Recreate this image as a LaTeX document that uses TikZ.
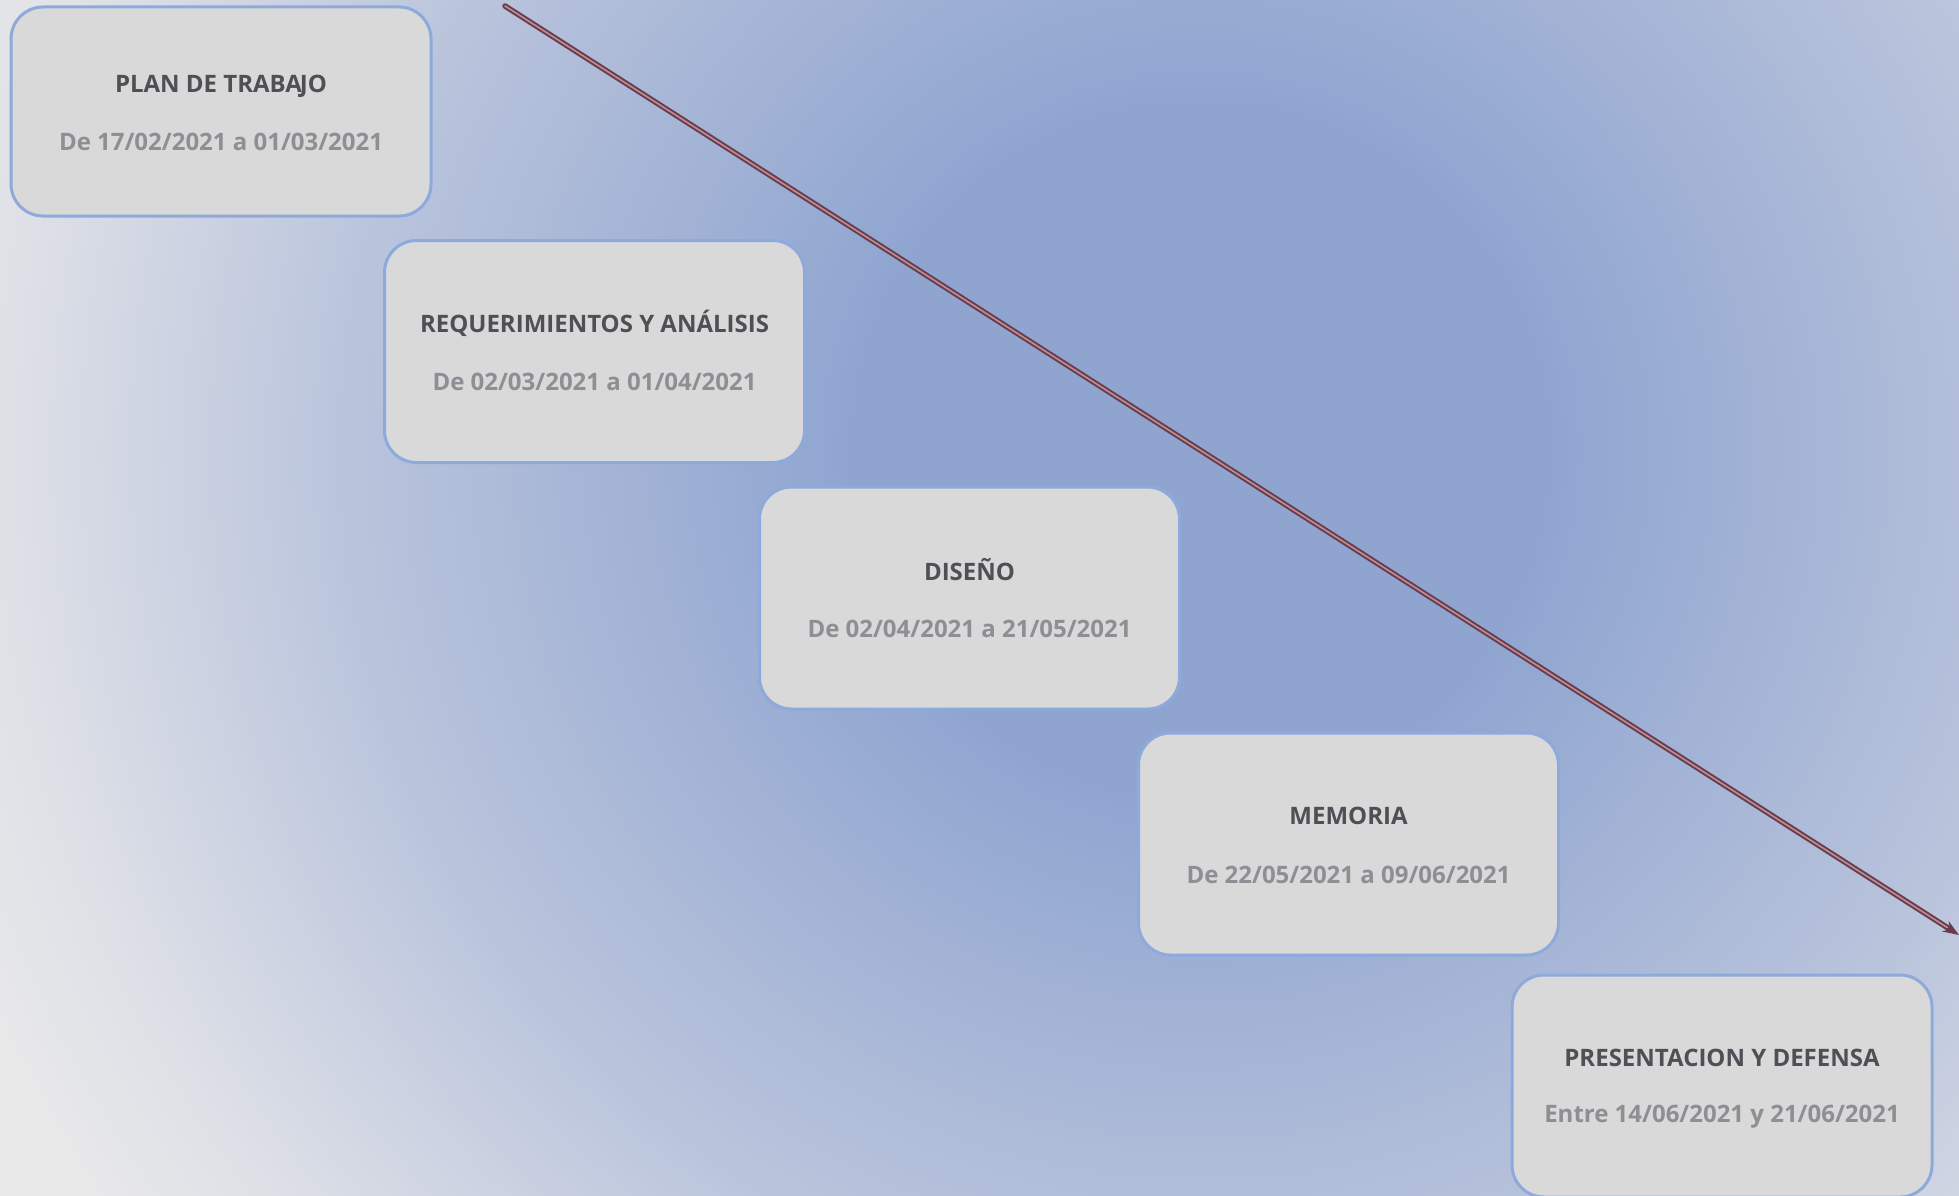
\documentclass[tikz,border=0pt]{standalone}
\usepackage{fontspec}
\setmainfont{Open Sans}
\usetikzlibrary{arrows.meta}
\definecolor{bgA}{HTML}{8FA5D0}
\definecolor{bgB}{HTML}{AFBCD9}
\definecolor{bgC}{HTML}{B9C4DC}
\definecolor{bgD}{HTML}{DFE1E7}
\definecolor{bgE}{HTML}{E9E9E9}
\definecolor{boxfill}{HTML}{D9D9D9}
\definecolor{boxline}{HTML}{8EA9DB}
\definecolor{titlecol}{HTML}{4F4F55}
\definecolor{datecol}{HTML}{8E8E94}
\definecolor{arrowout}{HTML}{6B3B4B}
\definecolor{arrowin}{HTML}{B89098}
\pgfdeclareradialshading{bgshade}{\pgfpointorigin}{color(0bp)=(bgA); color(5.8bp)=(bgA); color(12bp)=(bgB); color(14.2bp)=(bgC); color(20bp)=(bgD); color(22.5bp)=(bgE); color(50bp)=(bgE)}
\tikzset{
  phase/.style={draw=boxline, line width=3pt, fill=boxfill, rounded corners=32pt,
    minimum width=420pt, minimum height=222pt, inner sep=0pt},
  ttl/.style={font=\bfseries\fontsize{24}{28}\selectfont, text=titlecol, inner sep=0pt},
  dte/.style={font=\bfseries\fontsize{24}{28}\selectfont, text=datecol, inner sep=0pt},
}
\begin{document}
\begin{tikzpicture}[x=1pt,y=-1pt]
\useasboundingbox (0,0) rectangle (1959,1196);
\begin{scope}
  \clip (0,0) rectangle (1959,1196);
  \shade[shading=bgshade] (1200,450) circle (1500pt);
\end{scope}
% arrow
\coordinate (s) at (505,6);
\coordinate (e) at (1959,935);
\draw[arrowout, line width=5.5pt, line cap=round, -{Stealth[length=16pt,width=12pt]}] (s) -- (e);
\draw[arrowin, line width=1.6pt, shorten >=14pt, line cap=round] (s) -- (e);
% boxes
\node[phase, minimum height=209pt] (b1) at (221,111.5) {};
\node[phase] (b2) at (594.5,351.5) {};
\node[phase] (b3) at (969.5,598) {};
\node[phase] (b4) at (1348.5,844) {};
\node[phase] (b5) at (1722,1086) {};
\node[ttl] (t1) at (221,86) {PLAN DE TRABA\kern-2pt JO};
\node[dte] (d1) at (221,142) {De 17/02/2021 a 01/03/2021};
\node[ttl] (t2) at (594.5,323) {REQUERIMIENTOS Y ANÁLISIS};
\node[dte] (d2) at (594.5,382) {De 02/03/2021 a 01/04/2021};
\node[ttl] (t3) at (969.5,570) {DISEÑO};
\node[dte] (d3) at (969.5,629) {De 02/04/2021 a 21/05/2021};
\node[ttl] (t4) at (1348.5,816) {MEMORIA};
\node[dte] (d4) at (1348.5,875) {De 22/05/2021 a 09/06/2021};
\node[ttl] (t5) at (1722,1058) {PRESENTACION Y DEFENSA};
\node[dte] (d5) at (1722,1117) {Entre 14/06/2021 y 21/06/2021};
\end{tikzpicture}
\end{document}
